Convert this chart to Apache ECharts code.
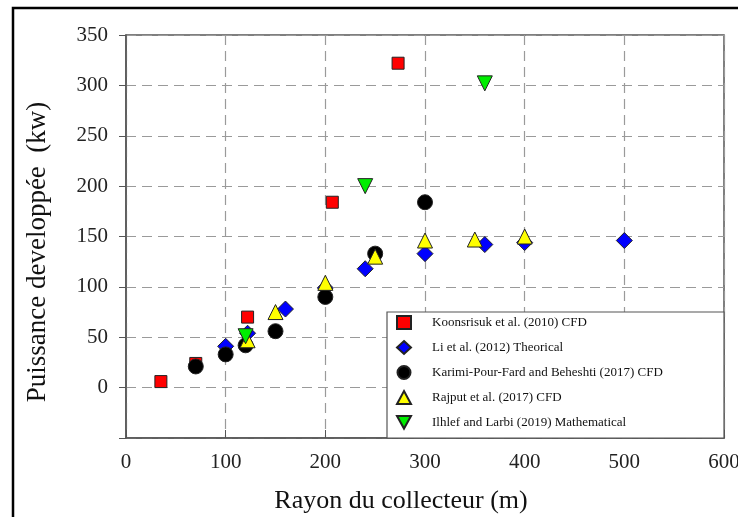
<!DOCTYPE html>
<html lang="fr">
<head>
  <meta charset="UTF-8">
  <title>Puissance vs rayon du collecteur</title>
  <script src="https://cdn.jsdelivr.net/npm/echarts@6/dist/echarts.min.js"></script>
  <style>
    html, body { margin: 0; padding: 0; background: #fff; }
  </style>
</head>
<body>
<div id="main" style="width: 738px;height: 517px;"></div>
<script>
  // [rayon (m), puissance (kW)]
  var koonsrisuk = [[35, 6], [70, 24], [122, 70], [207, 184], [273, 322]];
  var li = [[100, 41], [122, 54], [160, 78], [200, 99], [240, 118], [300, 133], [360, 142], [400, 144], [500, 146]];
  var karimi = [[70, 21], [100, 33], [120, 42], [150, 56], [200, 90], [250, 133], [300, 184]];
  var rajput = [[122, 47], [150, 75], [200, 104], [250, 130], [300, 146], [350, 147], [400, 150]];
  var ilhlef = [[120, 51], [240, 200], [360, 302]];

  var seriesNames = [
    'Koonsrisuk et al. (2010) CFD',
    'Li et al. (2012) Theorical',
    'Karimi-Pour-Fard and Beheshti (2017) CFD',
    'Rajput et al. (2017) CFD',
    'Ilhlef and Larbi (2019) Mathematical'
  ];

  var serif = '"Liberation Serif", "DejaVu Serif", serif';
  var downTriangle = 'path://M0,0 L10,0 L5,9 Z';
  var myChart = echarts.init(document.getElementById('main'));

  function scatter(name, data, symbol, size, color) {
    return {
      name: name,
      type: 'scatter',
      data: data,
      symbol: symbol,
      symbolSize: size,
      itemStyle: { color: color, opacity: 1, borderColor: '#222', borderWidth: 1 },
      emphasis: { disabled: true }
    };
  }

  myChart.setOption({
    animation: false,
    grid: {
      left: 126, top: 35, right: 14, bottom: 79,
      outerBoundsMode: 'none',
      show: true, borderColor: '#555', borderWidth: 1.5
    },
    graphic: [
      { type: 'rect', z: 0, shape: { x: 13, y: 8, width: 740, height: 520 },
        style: { fill: 'none', stroke: '#000', lineWidth: 2.5 } },
      { type: 'rect', z: 5, shape: { x: 387, y: 312, width: 337, height: 126 },
        style: { fill: '#fff', stroke: '#555', lineWidth: 1.2 } },
      { type: 'text', x: 401, y: 501,
        style: { text: 'Rayon du collecteur (m)', font: '26px ' + serif, fill: '#111',
                 align: 'center', verticalAlign: 'middle' } },
      { type: 'text', x: 38, y: 252, rotation: Math.PI / 2,
        style: { text: 'Puissance developpée  (kw)', font: '27px ' + serif, fill: '#111',
                 align: 'center', verticalAlign: 'middle' } }
    ],
    legend: {
      orient: 'vertical',
      left: 391, top: 310,
      itemGap: 10,
      itemWidth: 14, itemHeight: 13,
      z: 10,
      selectedMode: false,
      data: [
        { name: seriesNames[0] },
        { name: seriesNames[1] },
        { name: seriesNames[2] },
        { name: seriesNames[3] },
        { name: seriesNames[4], icon: downTriangle }
      ],
      textStyle: { fontFamily: serif, fontSize: 13, color: '#111', padding: [0, 0, 0, 16] }
    },
    xAxis: {
      type: 'value', min: 0, max: 600, interval: 100,
      axisLine: { show: true, onZero: false, lineStyle: { color: '#555', width: 1.5 } },
      axisTick: { show: true, inside: true, length: 8, lineStyle: { color: '#555' } },
      axisLabel: { fontFamily: serif, fontSize: 21, color: '#222', margin: 14 },
      splitLine: { show: true, lineStyle: { color: '#9a9a9a', type: [10, 6], width: 1.2 } }
    },
    yAxis: {
      type: 'value', min: -50, max: 350, interval: 50,
      axisLine: { show: true, onZero: false, lineStyle: { color: '#555', width: 1.5 } },
      axisTick: { show: true, inside: false, length: 7, lineStyle: { color: '#555' } },
      axisLabel: {
        fontFamily: serif, fontSize: 21, color: '#222', margin: 18,
        formatter: function (v) { return v < 0 ? '' : v; }
      },
      splitLine: { show: true, lineStyle: { color: '#9a9a9a', type: [10, 6], width: 1.2 } }
    },
    series: [
      scatter(seriesNames[0], koonsrisuk, 'rect', 12, '#ff0000'),
      scatter(seriesNames[1], li, 'diamond', 16, '#0000ff'),
      scatter(seriesNames[2], karimi, 'circle', 15, '#000000'),
      scatter(seriesNames[3], rajput, 'triangle', 15, '#ffff00'),
      scatter(seriesNames[4], ilhlef, downTriangle, 15, '#00ee00')
    ]
  });
</script>
</body>
</html>
